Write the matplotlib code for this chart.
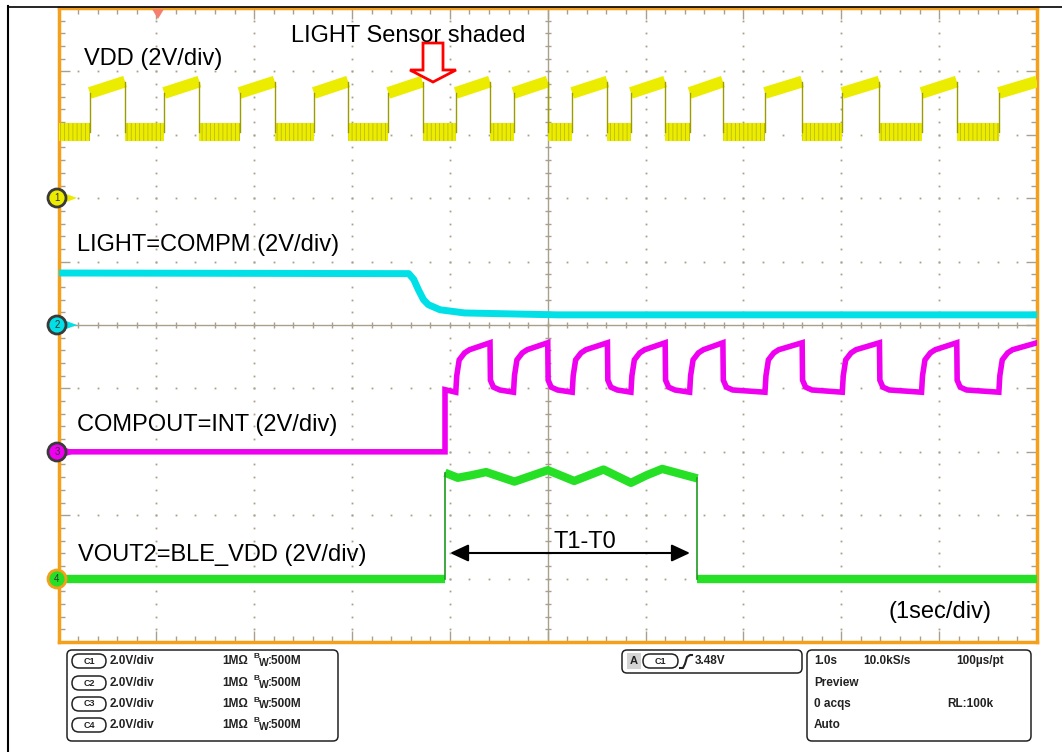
import numpy as np
import matplotlib.pyplot as plt
from matplotlib.patches import FancyBboxPatch, Polygon, Circle

plt.rcParams['font.family'] = ['Liberation Sans', 'DejaVu Sans']
plt.rcParams['hatch.linewidth'] = 0.6

# time in s (1 s/div), levels in divisions above each channel's ground marker
ch_offset = [2, 0, -2, -4]

# C1 VDD: square wave
vdd_rise = [0.32, 1.08, 1.85, 2.61, 3.37, 4.06, 4.65, 5.25, 5.85, 6.45, 7.22, 8.01, 8.82, 9.61]
vdd_fall = [0.68, 1.44, 2.21, 2.96, 3.72, 4.41, 5.00, 5.61, 6.20, 6.79, 7.60, 8.39, 9.18]
vdd_low = 1.04
vdd_high = [1.66, 1.84]   # just after rise, just before fall

# C2 LIGHT=COMPM
comp_t = [0.0, 3.58, 3.63, 3.68, 3.73, 3.78, 3.90, 4.15, 5.10, 10.0]
comp_v = [0.82, 0.81, 0.72, 0.55, 0.40, 0.32, 0.24, 0.19, 0.16, 0.16]

# C3 COMPOUT=INT: steps up at int_on, then follows VDD edges
int_on = 3.95
int_step = 0.98
int_rise_dt = [0.0, 0.01, 0.035, 0.09, 0.14]
int_rise_v = [0.94, 1.20, 1.45, 1.56, 1.61]
int_top = 1.72
int_fall_dt = [0.0, 0.004, 0.035, 0.10]
int_fall_v = [1.72, 1.13, 1.02, 0.975]

# C4 VOUT2=BLE_VDD
ble_t = [3.95, 4.08, 4.22, 4.37, 4.66, 4.83, 5.00, 5.27, 5.42, 5.57, 5.85, 6.01, 6.17, 6.53]
ble_v = [1.67, 1.59, 1.63, 1.68, 1.53, 1.62, 1.71, 1.54, 1.63, 1.72, 1.51, 1.63, 1.73, 1.58]

YEL, CYA, MAG, GRN = '#ecec00', '#00e0e6', '#f000f0', '#26e026'
ORANGE = '#f5a01a'
GRID = '#a89f8c'

fig = plt.figure(figsize=(10.62, 7.52), dpi=100)
W, H = 1062, 752
ax = fig.add_axes([58.5 / W, (H - 642) / H, (1037 - 58.5) / W, (642 - 8) / H])
ax.set_xlim(0, 10)
ax.set_ylim(-5, 5)

# graticule
minor = np.arange(0, 10.01, 0.2)
minor_y = np.arange(-5, 5.01, 0.2)
for x in range(1, 10):
    if x != 5:
        ax.plot(np.full(len(minor_y), x), minor_y, ls='', marker='s', ms=1.3, mew=0, color=GRID)
for y in range(-4, 5):
    if y != 0:
        ax.plot(minor, np.full(len(minor), y), ls='', marker='s', ms=1.3, mew=0, color=GRID)
ax.axhline(0, color=GRID, lw=1)
ax.axvline(5, color=GRID, lw=1)
ax.plot(minor, np.zeros(len(minor)), ls='', marker='|', ms=5, mew=1, color=GRID)
ax.plot(np.full(len(minor_y), 5), minor_y, ls='', marker='_', ms=5, mew=1, color=GRID)
ax.set_xticks(range(11))
ax.set_xticks(minor, minor=True)
ax.set_yticks(range(-5, 6))
ax.set_yticks(minor_y, minor=True)
ax.tick_params(which='both', direction='in', top=True, right=True,
               labelbottom=False, labelleft=False, color=GRID, width=1)
ax.tick_params(which='major', length=8)
ax.tick_params(which='minor', length=4.5)
for s in ax.spines.values():
    s.set_color(ORANGE)
    s.set_linewidth(2.5)

# C1 VDD
o = ch_offset[0]
lows = [0.0] + vdd_fall
low_ends = vdd_rise
for a, b in zip(lows, low_ends):
    ax.fill_between([a, b], o + vdd_low - 0.14, o + vdd_low + 0.14, facecolor=YEL,
                    edgecolor='#bcbc10', hatch='||||', lw=0, zorder=3)
highs_end = vdd_fall + [10.0]
for a, b in zip(vdd_rise, highs_end):
    ax.plot([a, b], [o + vdd_high[0], o + vdd_high[1]], color=YEL, lw=8.5, solid_capstyle='butt', zorder=3)
    ax.plot([a, a], [o + vdd_low, o + vdd_high[0]], color='#9c9c00', lw=1, zorder=3)
    if b < 10:
        ax.plot([b, b], [o + vdd_low, o + vdd_high[1]], color='#9c9c00', lw=1, zorder=3)

# C2
ax.plot(comp_t, np.array(comp_v) + ch_offset[1], color=CYA, lw=5, zorder=3)

# C3
rises = [r for r in vdd_rise if r > int_on]
falls = [f for f in vdd_fall if f > int_on]
mt, mv = [0.0, int_on, int_on], [0.0, 0.0, int_step]
for i, r in enumerate(rises):
    mt += [r + d for d in int_rise_dt]
    mv += int_rise_v
    if i < len(falls):
        f = falls[i]
        mt += [f + d for d in int_fall_dt]
        mv += int_fall_v
    else:
        mt.append(10.0)
        mv.append(int_top)
ax.plot(mt, np.array(mv) + ch_offset[2], color=MAG, lw=4, solid_joinstyle='miter', zorder=3)

# C4
o = ch_offset[3]
ax.plot([0, ble_t[0]], [o, o], color=GRN, lw=6, solid_capstyle='butt', zorder=3)
ax.plot(ble_t, np.array(ble_v) + o, color=GRN, lw=6, solid_capstyle='butt', zorder=3)
ax.plot([ble_t[-1], 10], [o, o], color=GRN, lw=6, solid_capstyle='butt', zorder=3)
ax.plot([ble_t[0], ble_t[0]], [o, o + ble_v[0]], color='#1f9a1f', lw=1.2, zorder=3)
ax.plot([ble_t[-1], ble_t[-1]], [o, o + ble_v[-1]], color='#1f9a1f', lw=1.2, zorder=3)

# overlay in pixel coordinates
ov = fig.add_axes([0, 0, 1, 1], zorder=5)
ov.set_xlim(0, W)
ov.set_ylim(H, 0)
ov.axis('off')
ov.patch.set_alpha(0)

ov.plot([7.5, 7.5], [6, H], color='black', lw=1.5)
ov.plot([7.5, W], [6.5, 6.5], color='black', lw=1.2)

lab = dict(fontsize=17, va='baseline', ha='left', color='black')
ov.text(84, 65, 'VDD (2V/div)', **lab)
ov.text(291, 42, 'LIGHT Sensor shaded', **lab)
ov.text(77, 251, 'LIGHT=COMPM (2V/div)', **lab)
ov.text(77, 431, 'COMPOUT=INT (2V/div)', **lab)
ov.text(78, 561, 'VOUT2=BLE_VDD (2V/div)', **lab)
ov.text(553, 548, 'T1-T0', **lab)
ov.text(888, 618, '(1sec/div)', **lab)

ov.add_patch(Polygon([(423, 43), (443, 43), (443, 70), (456, 70), (433, 82), (410, 70), (423, 70)],
                     closed=True, fc='white', ec='red', lw=2))
ov.add_patch(Polygon([(152, 9), (164, 9), (158, 19)], closed=True, fc='#f47f6f', ec='none'))
ov.annotate('', xy=(450, 553), xytext=(690, 553),
            arrowprops=dict(arrowstyle='<|-|>,head_length=0.75,head_width=0.35',
                            mutation_scale=15, color='black', lw=1.5, shrinkA=0, shrinkB=0))

# channel ground markers
marker_y = [198, 325, 452, 579]
marker_c = [YEL, CYA, MAG, GRN]
for k, (yy, c) in enumerate(zip(marker_y, marker_c)):
    ov.add_patch(Polygon([(65, yy - 4.5), (77, yy), (65, yy + 4.5)], closed=True, fc=c, ec='none'))
    ec = ORANGE if k == 3 else '#3a3a3a'
    ov.add_patch(Circle((57, yy), 9, fc=c, ec=ec, lw=2))
    ov.text(57, yy, str(k + 1), fontsize=7, ha='center', va='center', color='#333333')

# info panels
info = dict(fontsize=8.5, fontweight='bold', va='center', ha='left', color='#222222')


def box(x0, y0, x1, y1, r=5, fc='white'):
    ov.add_patch(FancyBboxPatch((x0, y0), x1 - x0, y1 - y0,
                                boxstyle=f'round,pad=0,rounding_size={r}',
                                fc=fc, ec='#222222', lw=1.1))


def oval(x0, x1, yc, s):
    box(x0, yc - 7, x1, yc + 7, r=7)
    ov.text((x0 + x1) / 2, yc, s, fontsize=6.5, fontweight='bold', ha='center', va='center', color='#222222')


rows = [661, 683, 704, 725]
box(67, 650, 338, 741)
for k, yy in enumerate(rows):
    oval(72, 106, yy, f'C{k + 1}')
    ov.text(110, yy, '2.0V/div', **info)
    ov.text(222, yy, '1MΩ', **info)
    ov.text(254, yy - 4, 'B', fontsize=6, fontweight='bold', ha='left', va='center', color='#222222')
    ov.text(259, yy + 1.5, 'W', fontsize=7.5, fontweight='bold', ha='left', va='center', color='#222222')
    ov.text(268, yy, ':500M', **info)

box(622, 650, 802, 673)
ov.add_patch(plt.Rectangle((627, 653), 14, 16, fc='#d4d4d4', ec='none'))
ov.text(634, 661, 'A', fontsize=8, fontweight='bold', ha='center', va='center', color='#222222')
oval(643, 678, 661, 'C1')
ov.plot([680, 683, 685, 687, 690, 692], [668, 668, 664, 657, 655, 655], color='#222222', lw=1.5)
ov.text(695, 661, '3.48V', **info)

box(807, 650, 1031, 741)
ov.text(814, rows[0], '1.0s', **info)
ov.text(863, rows[0], '10.0kS/s', **info)
ov.text(956, rows[0], '100µs/pt', **info)
ov.text(814, rows[1], 'Preview', **info)
ov.text(814, rows[2], '0 acqs', **info)
ov.text(947, rows[2], 'RL:100k', **info)
ov.text(814, rows[3], 'Auto', **info)

fig.savefig('out.png', dpi=100)
